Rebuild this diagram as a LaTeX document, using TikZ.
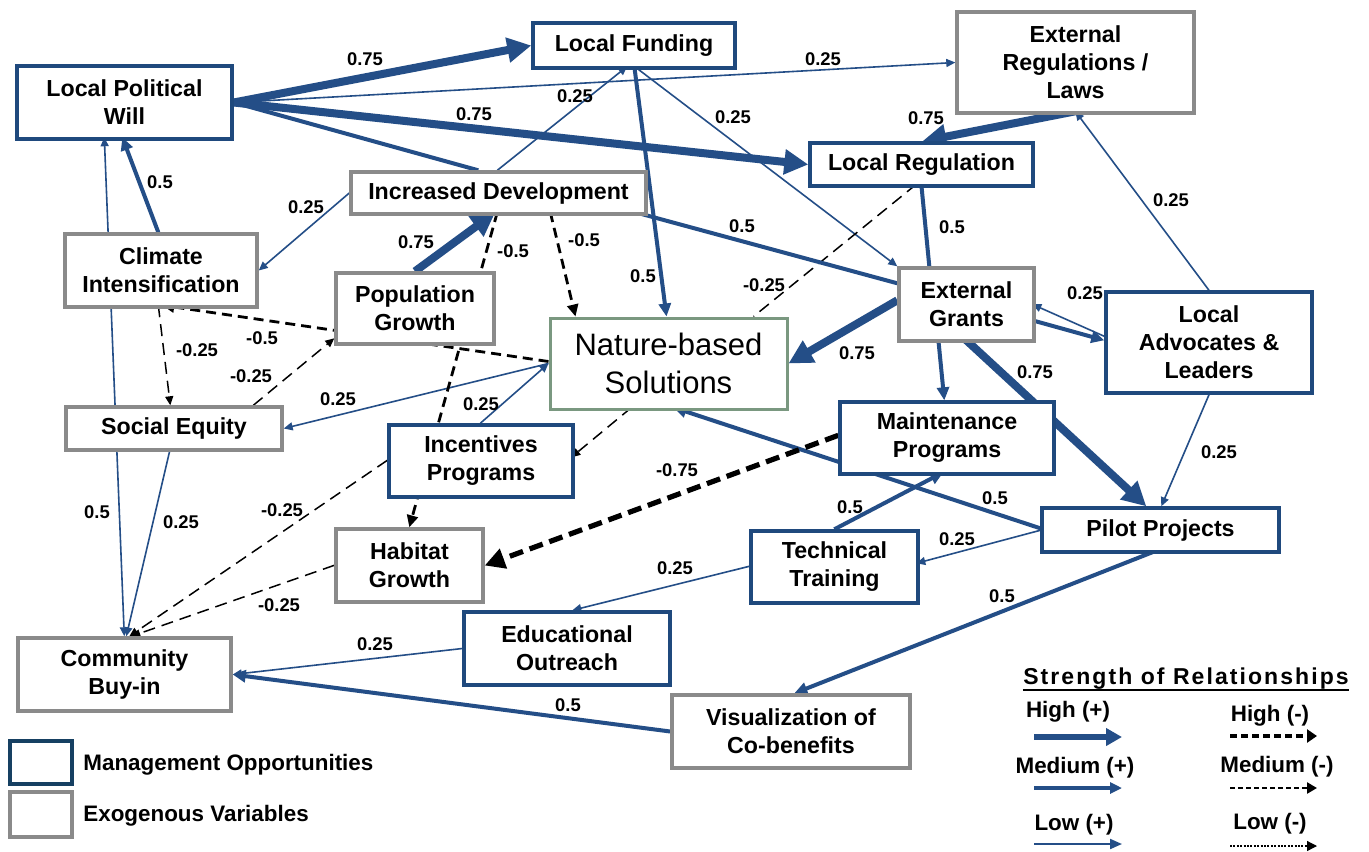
\documentclass[tikz,border=0pt]{standalone}
\usepackage{fontspec}
\setmainfont{Liberation Sans}
\newfontfamily\spacedfont[LetterSpace=9]{Liberation Sans}
\usetikzlibrary{arrows.meta,calc}
\definecolor{mblue}{RGB}{31,73,125}
\definecolor{lblue}{RGB}{36,78,135}
\definecolor{mgray}{RGB}{138,138,138}
\definecolor{ngreen}{RGB}{122,152,128}
\definecolor{dblue}{RGB}{22,64,98}
\pgfdeclarelayer{bg}
\pgfsetlayers{bg,main}
\tikzset{
  box/.style={rectangle, fill=white, line width=1.7pt, align=center, inner sep=0pt,
    font=\bfseries\fontsize{11.6}{14}\selectfont},
  mbox/.style={box, draw=mblue},
  gbox/.style={box, draw=mgray},
  sz/.style 2 args={minimum width=#1*0.5pt, minimum height=#2*0.5pt},
  lab/.style={font=\bfseries\fontsize{9.2}{10}\selectfont, inner sep=0pt},
  legt/.style={font=\bfseries\fontsize{11.2}{13}\selectfont, inner sep=0pt},
  lo/.style={draw=lblue, line width=0.8pt, -{Triangle[length=4.5pt,width=4pt]}},
  me/.style={draw=lblue, line width=2pt, -{Triangle[length=6.5pt,width=6pt]}},
  hi/.style={draw=lblue, line width=4pt, -{Triangle[length=12pt,width=12pt]}},
  nlo/.style={draw=black, line width=0.75pt, dash pattern=on 6pt off 3.5pt, -{Triangle[length=4.5pt,width=4pt]}},
  nme/.style={draw=black, line width=1.4pt, dash pattern=on 5pt off 3pt, -{Triangle[length=6pt,width=5.5pt]}},
  nhi/.style={draw=black, line width=2.6pt, dash pattern=on 7pt off 3.5pt, -{Triangle[length=10pt,width=10pt]}},
}
\begin{document}
\begin{tikzpicture}[x=0.5pt,y=-0.5pt]
\useasboundingbox (0,0) rectangle (1369,851);
% ---------- boxes ----------
\node[mbox, sz={215}{73}] (lpw) at (124.5,102.5) {Local Political\\Will};
\node[mbox, sz={202}{45}] (lf) at (634,45.5) {Local Funding};
\node[gbox, sz={237}{101}] (erl) at (1075.5,62.5) {External\\Regulations /\\Laws};
\node[mbox, sz={223}{43}] (lr) at (921.5,164.5) {Local Regulation};
\node[gbox, sz={295}{42}] (id) at (498.5,193) {Increased Development};
\node[gbox, sz={192}{73}] (ci) at (161,270.5) {Climate\\Intensification};
\node[gbox, sz={158}{71}] (pg) at (415,308.5) {Population\\Growth};
\node[box, draw=ngreen, line width=1.5pt, sz={237}{91}, font=\fontsize{15.5}{19}\selectfont] (nbs) at (668.5,363.5) {Nature-based\\Solutions};
\node[gbox, sz={135}{73}] (eg) at (966.5,304.5) {External\\Grants};
\node[mbox, sz={206}{101}] (lal) at (1209,342.5) {Local\\Advocates \&\\Leaders};
\node[gbox, sz={216}{43}] (se) at (174,428.5) {Social Equity};
\node[mbox, sz={184}{72}] (ip) at (481,461) {Incentives\\Programs};
\node[mbox, sz={214}{72}] (mp) at (947,438) {Maintenance\\Programs};
\node[mbox, sz={237}{44}] (pp) at (1160.5,530) {Pilot Projects};
\node[mbox, sz={167}{72}] (tt) at (834.5,567) {Technical\\Training};
\node[gbox, sz={147}{73}] (hg) at (409.5,565.5) {Habitat\\Growth};
\node[mbox, sz={206}{73}] (eo) at (567,648.5) {Educational\\Outreach};
\node[gbox, sz={213}{73}] (cb) at (124.5,674.5) {Community\\Buy-in};
\node[gbox, sz={238}{73}] (vc) at (791,731.5) {Visualization of\\Co-benefits};
% ---------- connectors ----------
\begin{pgfonlayer}{bg}
\fill[white] (0,0) rectangle (1369,851);
\draw[hi] (lpw.east) -- (lf.west);
\draw[lo] (lpw.east) -- (erl.west);
\draw[hi] (lpw.east) -- (lr.west);
\draw[me,-] ([shift={(129,0)}]id.north west) -- (lpw.east);
\draw[lo] ([shift={(148,0)}]id.north west) -- ([shift={(96,45)}]lf.north west);
\draw[me] ([shift={(103,45)}]lf.north west) -- ([shift={(118,0)}]nbs.north west);
\draw[lo] ([shift={(103,45)}]lf.north west) -- (eg.north west);
\draw[hi] ([shift={(120,101)}]erl.north west) -- ([shift={(114,0)}]lr.north west);
\draw[lo] (lal.north) -- ([shift={(120,101)}]erl.north west);
\draw[me,-] ([shift={(113,43)}]lr.north west) -- ([shift={(32,0)}]eg.north west);
\draw[nlo,-] ([shift={(108,43)}]lr.north west) -- ([shift={(205,0)}]nbs.north west);
\draw[me,-] ([shift={(286,42)}]id.north west) -- ([shift={(0,17)}]eg.north west);
\draw[lo] (id.west) -- (ci.east);
\draw[me] ([shift={(95,0)}]ci.north west) -- ([shift={(107,73)}]lpw.north west);
\draw[lo,{Triangle[length=4.5pt,width=4pt]}-{Triangle[length=4.5pt,width=4pt]}] ([shift={(108,0)}]cb.north west) -- ([shift={(89,73)}]lpw.north west);
\draw[nlo] ([shift={(95,73)}]ci.north west) -- ([shift={(106,0)}]se.north west);
\draw[nme] ([shift={(0,45)}]nbs.north west) -- ([shift={(99,73)}]ci.north west);
\draw[nlo] ([shift={(189,0)}]se.north west) -- ([shift={(0,67)}]pg.north west);
\draw[lo] ([shift={(0,47)}]nbs.north west) -- (se.east);
\draw[lo] ([shift={(93,0)}]ip.north west) -- ([shift={(0,47)}]nbs.north west);
\draw[hi] (pg.north) -- ([shift={(146,42)}]id.north west);
\draw[nme] ([shift={(148,42)}]id.north west) -- ([shift={(75,0)}]hg.north west);
\draw[nme] ([shift={(201,42)}]id.north west) -- ([shift={(27,0)}]nbs.north west);
\draw[hi] ([shift={(0,34)}]eg.north west) -- (nbs.east);
\draw[me] ([shift={(135,54)}]eg.north west) -- ([shift={(0,50)}]lal.north west);
\draw[lo] ([shift={(0,46)}]lal.north west) -- ([shift={(135,38)}]eg.north west);
\draw[me] ([shift={(41,73)}]eg.north west) -- ([shift={(106,0)}]mp.north west);
\draw[hi] ([shift={(68,73)}]eg.north west) -- ([shift={(106,0)}]pp.north west);
\draw[lo] (lal.south) -- ([shift={(121,0)}]pp.north west);
\draw[me] ([shift={(0,22)}]pp.north west) -- ([shift={(125,91)}]nbs.north west);
\draw[nhi] ([shift={(0,35)}]mp.north west) -- (hg.east);
\draw[lo] ([shift={(0,24)}]pp.north west) -- ([shift={(167,34)}]tt.north west);
\draw[me] ([shift={(85,0)}]tt.north west) -- ([shift={(105,72)}]mp.north west);
\draw[lo] ([shift={(0,37)}]tt.north west) -- ([shift={(110,0)}]eo.north west);
\draw[lo] (eo.west) -- (cb.east);
\draw[me] (vc.west) -- (cb.east);
\draw[me] ([shift={(117,44)}]pp.north west) -- ([shift={(124,0)}]vc.north west);
\draw[lo] ([shift={(106,43)}]se.north west) -- ([shift={(110,0)}]cb.north west);
\draw[nlo] ([shift={(0,37)}]ip.north west) -- ([shift={(113,0)}]cb.north west);
\draw[nlo] ([shift={(0,38)}]hg.north west) -- ([shift={(115,0)}]cb.north west);
\draw[nlo] ([shift={(83,91)}]nbs.north west) -- ([shift={(184,34)}]ip.north west);
\end{pgfonlayer}
% ---------- connector labels ----------
\node[lab] (l1) at (365,59) {0.75};
\node[lab] (l2) at (823,59) {0.25};
\node[lab] (l3) at (474,114) {0.75};
\node[lab] (l4) at (575,96) {0.25};
\node[lab] (l5) at (733,117) {0.25};
\node[lab] (l6) at (926,118) {0.75};
\node[lab] (l7) at (1171,200) {0.25};
\node[lab] (l8) at (952,227) {0.5};
\node[lab] (l9) at (764,285) {-0.25};
\node[lab] (l10) at (742,226) {0.5};
\node[lab] (l11) at (306,207) {0.25};
\node[lab] (l12) at (160,182) {0.5};
\node[lab] (l13) at (416,242) {0.75};
\node[lab] (l14) at (513,251) {-0.5};
\node[lab] (l15) at (584,240) {-0.5};
\node[lab] (l16) at (643,276) {0.5};
\node[lab] (l17) at (197,350) {-0.25};
\node[lab] (l18) at (262,338) {-0.5};
\node[lab] (l19) at (251,376) {-0.25};
\node[lab] (l20) at (338,399) {0.25};
\node[lab] (l21) at (481,404) {0.25};
\node[lab] (l22) at (857,353) {0.75};
\node[lab] (l23) at (1085,293) {0.25};
\node[lab] (l24) at (1035,372) {0.75};
\node[lab] (l25) at (1219,452) {0.25};
\node[lab] (l26) at (995,498) {0.5};
\node[lab] (l27) at (677,470) {-0.75};
\node[lab] (l28) at (957,539) {0.25};
\node[lab] (l29) at (850,507) {0.5};
\node[lab] (l30) at (675,568) {0.25};
\node[lab] (l31) at (375,644) {0.25};
\node[lab] (l32) at (568,705) {0.5};
\node[lab] (l33) at (1002,596) {0.5};
\node[lab] (l34) at (97,512) {0.5};
\node[lab] (l35) at (181,522) {0.25};
\node[lab] (l36) at (282,510) {-0.25};
\node[lab] (l37) at (279,605) {-0.25};
% ---------- legend: box types ----------
\node[draw=dblue, line width=2pt, sz={62}{43}, inner sep=0pt] (lgm) at (41,762.5) {};
\node[draw=mgray, line width=2pt, sz={62}{45}, inner sep=0pt] (lgg) at (41,814.5) {};
\node[legt, anchor=west] (lgmt) at (83,765) {Management Opportunities};
\node[legt, anchor=west] (lggt) at (83,816) {Exogenous Variables};
% ---------- legend: strengths ----------
\node[inner sep=0pt, font=\spacedfont\bfseries\fontsize{11.5}{13}\selectfont] (srt) at (1186,679) {Strength of Relationships};
\draw[line width=0.9pt] ([yshift=-2.5pt]srt.base west) -- ([yshift=-2.5pt]srt.base east);
\node[legt] (h1) at (1068,712) {High (+)};
\node[legt] (h2) at (1270,716) {High (-)};
\node[legt] (m1) at (1075,768) {Medium (+)};
\node[legt] (m2) at (1277,767) {Medium (-)};
\node[legt] (w1) at (1074,825) {Low (+)};
\node[legt] (w2) at (1270,824) {Low (-)};
\coordinate (a1s) at (1034,737); \coordinate (a1e) at (1122,737);
\coordinate (a2s) at (1034,788); \coordinate (a2e) at (1122,788);
\coordinate (a3s) at (1034,844); \coordinate (a3e) at (1122,844);
\coordinate (b1s) at (1230,736); \coordinate (b1e) at (1317,736);
\coordinate (b2s) at (1230,788); \coordinate (b2e) at (1317,788);
\coordinate (b3s) at (1230,846); \coordinate (b3e) at (1317,846);
\draw[draw=lblue, line width=3pt, -{Triangle[length=8pt,width=8.5pt]}] (a1s) -- (a1e);
\draw[draw=lblue, line width=1.6pt, -{Triangle[length=6pt,width=5.5pt]}] (a2s) -- (a2e);
\draw[draw=lblue, line width=1pt, -{Triangle[length=6pt,width=5pt]}] (a3s) -- (a3e);
\draw[line width=2.2pt, dash pattern=on 3.5pt off 2pt, -{Triangle[length=5pt,width=6.5pt]}] (b1s) -- (b1e);
\draw[line width=1.2pt, dash pattern=on 2.5pt off 1.5pt, -{Triangle[length=5pt,width=5.5pt]}] (b2s) -- (b2e);
\draw[line width=0.6pt, dash pattern=on 1pt off 0.7pt, -{Triangle[length=5pt,width=5pt]}] (b3s) -- (b3e);
\end{tikzpicture}
\end{document}
